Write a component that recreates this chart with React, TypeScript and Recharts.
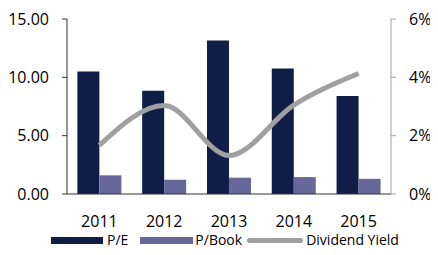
import { ComposedChart, Bar, Line, XAxis, YAxis, Legend } from 'recharts'

const years = ['2011', '2012', '2013', '2014', '2015']
const peRatio = [10.5, 8.85, 13.15, 10.75, 8.4]
const priceToBook = [1.6, 1.22, 1.4, 1.45, 1.3]
const dividendYield = [0.0167, 0.0303, 0.0132, 0.0305, 0.0413]
const leftTicks = [0, 5, 10, 15]
const rightTicks = [0, 0.02, 0.04, 0.06]
const boundaryTicks = [0, 1, 2, 3, 4, 5]

const data = years.map((year, i) => ({
  year,
  pe: peRatio[i],
  pb: priceToBook[i],
  dy: dividendYield[i],
}))

const FONT = '"Open Sans", sans-serif'
const NAVY = '#0f1d47'
const PURPLE = '#676799'
const GREY = '#a0a0a0'

function ChartLegend() {
  const label = { fontSize: 14, color: '#000', fontFamily: FONT, marginLeft: 4, lineHeight: '14px' }
  return (
    <div style={{ display: 'flex', alignItems: 'center', paddingLeft: 43, height: 14 }}>
      <span style={{ width: 52, height: 7, background: NAVY, display: 'inline-block' }} />
      <span style={{ ...label, marginRight: 12 }}>P/E</span>
      <span style={{ width: 53, height: 7, background: PURPLE, display: 'inline-block' }} />
      <span style={{ ...label, marginLeft: 2, marginRight: 5 }}>P/Book</span>
      <span style={{ width: 56, height: 5, background: GREY, borderRadius: 3, display: 'inline-block' }} />
      <span style={{ ...label, marginLeft: 3 }}>Dividend Yield</span>
    </div>
  )
}

export default function App() {
  return (
    <ComposedChart
      width={422}
      height={247}
      data={data}
      margin={{ top: 11, right: 0, left: 0, bottom: 0 }}
      barCategoryGap="16%"
      barGap={0}
      style={{ fontFamily: FONT }}
    >
      <XAxis
        xAxisId="bounds"
        type="number"
        domain={[0, 5]}
        ticks={boundaryTicks}
        tick={false}
        axisLine={false}
        tickLine={{ stroke: '#333' }}
        tickSize={6}
        height={0}
      />
      <XAxis
        dataKey="year"
        axisLine={{ stroke: '#333' }}
        tickLine={false}
        tickMargin={16}
        height={39}
        tick={{ fontSize: 16, fill: '#000' }}
      />
      <YAxis
        yAxisId="left"
        domain={[0, 15]}
        ticks={leftTicks}
        tickFormatter={(v: number) => v.toFixed(2)}
        width={59}
        axisLine={{ stroke: '#333' }}
        tickLine={{ stroke: '#333' }}
        tickSize={5}
        tickMargin={13}
        tick={{ fontSize: 16, fill: '#000' }}
      />
      <YAxis
        yAxisId="right"
        orientation="right"
        domain={[0, 0.06]}
        ticks={rightTicks}
        tickFormatter={(v: number) => `${Math.round(v * 100)}%`}
        width={39}
        axisLine={{ stroke: GREY }}
        tickLine={{ stroke: GREY }}
        tickSize={5}
        tickMargin={13}
        tick={{ fontSize: 16, fill: '#000' }}
      />
      <Legend verticalAlign="bottom" height={22} content={() => <ChartLegend />} />
      <Bar yAxisId="left" dataKey="pe" name="P/E" fill={NAVY} isAnimationActive={false} />
      <Bar yAxisId="left" dataKey="pb" name="P/Book" fill={PURPLE} isAnimationActive={false} />
      <Line
        yAxisId="right"
        dataKey="dy"
        name="Dividend Yield"
        type="monotone"
        stroke={GREY}
        strokeWidth={5}
        dot={false}
        isAnimationActive={false}
      />
    </ComposedChart>
  )
}
